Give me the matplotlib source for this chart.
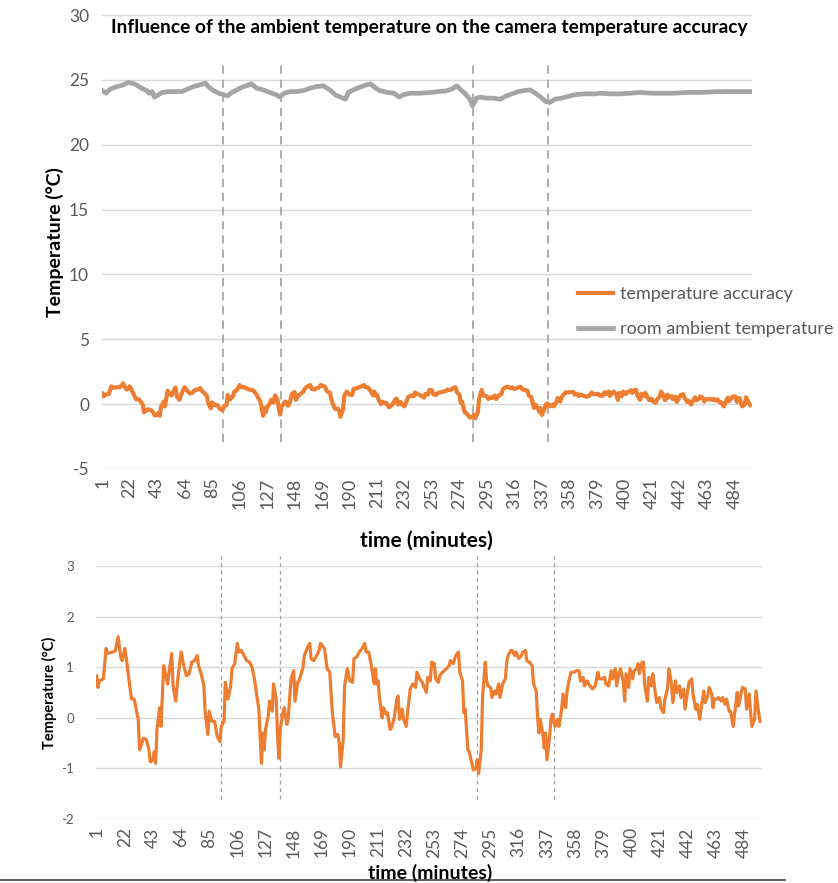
import matplotlib
matplotlib.use("Agg")
import matplotlib.pyplot as plt
from matplotlib.lines import Line2D

plt.rcParams['font.family'] = ['Lato', 'DejaVu Sans']
plt.rcParams['axes.unicode_minus'] = False

# ---------------- data ----------------
acc_minutes = [1, 2, 3, 6, 8, 9, 13, 15, 17, 19, 20, 22, 23, 25, 27, 29, 31, 32, 33, 36,
               38, 40, 41, 43, 44, 45, 46, 48, 49, 51, 52, 54, 55, 57, 58, 60, 61, 63, 64, 66,
               68, 70, 72, 74, 76, 77, 79, 81, 82, 84, 85, 87, 89, 91, 93, 94, 96, 97, 99, 101,
               102, 104, 106, 107, 109, 111, 113, 115, 117, 119, 120, 122, 124, 125, 126, 127, 129, 130, 132, 133,
               135, 136, 137, 138, 140, 141, 143, 144, 146, 148, 149, 151, 152, 155, 156, 158, 160, 161, 163, 166,
               167, 168, 170, 171, 173, 175, 176, 177, 179, 181, 182, 183, 185, 186, 188, 190, 192, 193, 195, 197,
               199, 201, 202, 204, 206, 208, 209, 210, 211, 212, 214, 215, 217, 218, 220, 221, 223, 225, 226, 227,
               229, 230, 232, 233, 235, 237, 239, 240, 242, 244, 245, 247, 248, 250, 251, 253, 254, 256, 257, 259,
               262, 264, 265, 267, 269, 271, 272, 274, 275, 276, 277, 278, 279, 281, 282, 284, 285, 286, 288, 289,
               291, 292, 293, 295, 296, 298, 299, 301, 302, 304, 306, 307, 308, 310, 311, 313, 314, 316, 318, 319,
               321, 322, 324, 326, 327, 329, 330, 331, 332, 334, 335, 336, 337, 339, 340, 341, 343, 345, 346, 348,
               349, 351, 352, 354, 355, 357, 359, 361, 362, 364, 365, 367, 369, 371, 373, 375, 376, 378, 380, 381,
               383, 385, 386, 388, 389, 391, 392, 394, 395, 396, 398, 399, 401, 402, 404, 405, 406, 408, 409, 410,
               412, 413, 415, 416, 418, 419, 421, 422, 424, 425, 427, 428, 430, 431, 433, 434, 436, 437, 439, 440,
               442, 443, 445, 446, 448, 449, 451, 452, 454, 455, 457, 458, 460, 461, 462, 464, 465, 467, 468, 470,
               471, 473, 474, 476, 477, 479, 480, 482, 483, 485, 486, 488, 489, 490, 492, 493, 495, 496]

acc_values = [0.83, 0.6, 0.73, 0.77, 1.37, 1.27, 1.3, 1.33, 1.6, 1.2, 1.13, 1.37, 1.2, 0.77, 0.37, 0.37, 0.1, -0.03, -0.63, -0.4,
              -0.43, -0.63, -0.87, -0.83, -0.67, -0.9, -0.23, 0.2, -0.17, 1.03, 0.9, 0.67, 0.9, 1.27, 0.63, 0.33, 0.63, 1.1, 1.3, 1.03,
              0.83, 0.87, 1.1, 1.13, 1.23, 1.03, 0.87, 0.63, 0.1, -0.33, 0.13, -0.07, -0.07, -0.37, -0.47, -0.17, -0.07, 0.7, 0.37, 0.63,
              0.97, 1.07, 1.47, 1.3, 1.33, 1.23, 1.13, 1.1, 1.0, 0.73, 0.53, 0.17, -0.9, -0.3, -0.63, -0.23, 0.03, 0.33, 0.13, 0.67,
              0.37, -0.37, -0.8, -0.23, 0.1, 0.2, -0.13, 0.0, 0.77, 0.93, 0.33, 0.7, 0.73, 1.0, 1.23, 1.37, 1.47, 1.17, 1.13, 1.27,
              1.33, 1.47, 1.4, 1.37, 0.97, 0.9, 0.43, 0.07, -0.37, -0.33, -0.5, -0.97, -0.43, 0.63, 0.97, 0.73, 0.7, 1.17, 1.2, 1.3,
              1.37, 1.47, 1.3, 1.3, 1.03, 0.67, 0.97, 0.67, 0.73, 0.4, 0.0, 0.2, 0.07, 0.1, -0.23, -0.2, 0.0, 0.37, 0.43, -0.03,
              0.17, -0.03, -0.17, 0.1, 0.57, 0.67, 0.6, 0.9, 0.77, 0.7, 0.63, 0.5, 0.8, 0.73, 1.1, 1.07, 0.77, 0.7, 0.83, 0.9,
              0.97, 1.03, 1.13, 1.07, 1.23, 1.3, 0.9, 0.73, 0.1, 0.17, -0.23, -0.63, -0.67, -0.9, -1.03, -1.0, -0.83, -1.1, -0.63, 0.43,
              1.1, 0.73, 0.63, 0.6, 0.4, 0.53, 0.47, 0.67, 0.4, 0.67, 0.77, 1.1, 1.23, 1.33, 1.33, 1.23, 1.3, 1.17, 1.23, 1.3,
              1.33, 1.13, 1.1, 1.03, 0.67, 0.53, 0.03, -0.3, -0.03, -0.33, -0.6, -0.3, -0.83, -0.37, -0.03, 0.07, -0.17, -0.03, -0.17, 0.17,
              0.47, 0.2, 0.53, 0.8, 0.9, 0.9, 0.93, 0.93, 0.73, 0.8, 0.63, 0.73, 0.63, 0.57, 0.63, 0.9, 0.77, 0.77, 0.8, 0.67,
              0.63, 0.93, 0.77, 0.97, 0.63, 0.9, 0.97, 0.7, 0.33, 0.87, 0.6, 0.97, 0.77, 0.93, 0.97, 1.07, 0.87, 1.1, 1.1, 0.63,
              0.33, 0.8, 0.63, 0.87, 0.47, 0.3, 0.4, 0.2, 0.1, 0.37, 0.57, 0.97, 0.67, 0.3, 0.73, 0.5, 0.63, 0.4, 0.57, 0.17,
              0.53, 0.7, 0.77, 0.47, 0.17, 0.27, -0.03, 0.17, 0.53, 0.3, 0.43, 0.6, 0.47, 0.2, 0.37, 0.37, 0.4, 0.33, 0.4, 0.27,
              0.37, 0.13, 0.13, -0.17, 0.07, 0.5, 0.23, 0.5, 0.6, 0.57, 0.17, 0.47, 0.1, -0.17, -0.03, 0.53, 0.1, -0.07]

room_minutes = [1, 4, 7, 11, 15, 17, 21, 24, 27, 31, 35, 37, 39, 41, 44, 47, 52, 57, 62, 66,
                71, 76, 80, 82, 86, 90, 94, 97, 100, 104, 108, 111, 115, 119, 124, 129, 134, 137, 140, 145,
                150, 155, 160, 165, 170, 175, 179, 183, 187, 189, 193, 198, 203, 206, 210, 213, 219, 224, 228, 231,
                236, 244, 252, 258, 264, 268, 272, 275, 278, 282, 284, 287, 290, 295, 300, 305, 309, 314, 319, 324,
                328, 332, 336, 340, 343, 347, 352, 357, 362, 369, 377, 382, 389, 397, 405, 412, 420, 428, 438, 448,
                458, 468, 478, 489, 496]
room_values = [24.18, 23.97, 24.28, 24.44, 24.54, 24.62, 24.8, 24.74, 24.62, 24.36, 24.18, 23.97, 24.1, 23.67, 23.85, 24.03, 24.1, 24.1, 24.1, 24.28,
               24.49, 24.62, 24.74, 24.49, 24.18, 23.97, 23.85, 23.77, 24.03, 24.23, 24.44, 24.54, 24.69, 24.36, 24.23, 24.03, 23.85, 23.67, 23.97, 24.1,
               24.1, 24.18, 24.36, 24.49, 24.54, 24.23, 23.85, 23.67, 23.51, 24.03, 24.23, 24.44, 24.62, 24.69, 24.36, 24.18, 24.03, 23.97, 23.67, 23.85,
               23.97, 23.97, 24.03, 24.1, 24.15, 24.28, 24.54, 24.23, 23.97, 23.51, 23.0, 23.59, 23.67, 23.59, 23.59, 23.51, 23.72, 23.92, 24.1, 24.18,
               24.23, 23.97, 23.67, 23.33, 23.26, 23.51, 23.59, 23.72, 23.85, 23.92, 23.92, 23.97, 23.92, 23.92, 23.97, 24.03, 23.97, 23.97, 23.97, 24.03,
               24.03, 24.08, 24.1, 24.1, 24.1]

event_minutes = [93.5, 138, 284.5, 342]
tick_labels = [1, 22, 43, 64, 85, 106, 127, 148, 169, 190, 211, 232, 253, 274, 295, 316,
               337, 358, 379, 400, 421, 442, 463, 484]
top_yticks = [-5, 0, 5, 10, 15, 20, 25, 30]
bottom_yticks = [-2, -1, 0, 1, 2, 3]

ORANGE = '#ED7D31'
GRAY = '#A5A5A5'
GRID = '#D9D9D9'
TXT = '#595959'

W, H = 838, 883
fig = plt.figure(figsize=(W / 100, H / 100), dpi=100)


def frac_box(x0, x1, ytop, ybot):
    return [x0 / W, 1 - ybot / H, (x1 - x0) / W, (ybot - ytop) / H]


# ---------------- top chart ----------------
ax1 = fig.add_axes(frac_box(101.5, 752, 15, 469))
ax1.set_xlim(0.5, 497.5)
ax1.set_ylim(-5, 30)
ax1.set_yticks(top_yticks)
ax1.set_xticks(tick_labels)
ax1.set_xticklabels([str(t) for t in tick_labels], rotation=90, fontsize=13, color=TXT)
ax1.tick_params(axis='y', labelsize=12.5, colors=TXT, length=0, pad=9)
ax1.tick_params(axis='x', length=0, pad=6)
ax1.grid(axis='y', color=GRID, linewidth=1.0)
ax1.set_axisbelow(True)
for s in ax1.spines.values():
    s.set_visible(False)
ax1.vlines(event_minutes, -2.9, 26.2, colors='#A0A0A0', linestyles=(0, (5, 3.5)), linewidth=1.2, zorder=1.5)
l_acc, = ax1.plot(acc_minutes, acc_values, color=ORANGE, linewidth=3.0, solid_joinstyle='round', zorder=3)
l_room, = ax1.plot(room_minutes, room_values, color=GRAY, linewidth=3.4, solid_joinstyle='round', zorder=3)
ax1.set_ylabel('Temperature (°C)', fontsize=14, fontweight='bold', color='black')
ax1.yaxis.set_label_coords((64 - 101.5) / 650.5, 0.5)
fig.text(429 / W, 1 - 28 / H, 'Influence of the ambient temperature on the camera temperature accuracy',
         ha='center', va='center', fontsize=13.8, fontweight='bold', color='black')
fig.text(426 / W, 1 - 541 / H, 'time (minutes)', ha='center', va='center', fontsize=15,
         fontweight='bold', color='black')

fig.legend([l_acc, l_room], ['temperature accuracy', 'room ambient temperature'],
           loc='upper left', bbox_to_anchor=(578 / W, 1 - 286 / H), frameon=False,
           fontsize=13, labelcolor=TXT, handlelength=1.95, handletextpad=0.35, labelspacing=1.05,
           borderaxespad=0, borderpad=0)

# ---------------- bottom chart ----------------
ax2 = fig.add_axes(frac_box(96, 762, 566, 819))
ax2.set_xlim(0.5, 497.5)
ax2.set_ylim(-2, 3)
ax2.set_yticks(bottom_yticks)
ax2.set_xticks(tick_labels)
ax2.set_xticklabels([str(t) for t in tick_labels], rotation=90, fontsize=12.5, color=TXT)
ax2.tick_params(axis='y', labelsize=9.5, colors=TXT, length=0, pad=16)
ax2.tick_params(axis='x', length=0, pad=6)
ax2.grid(axis='y', color=GRID, linewidth=1.0)
ax2.set_axisbelow(True)
for s in ax2.spines.values():
    s.set_visible(False)
ax2.vlines(event_minutes, -1.6, 3.2, colors='#A0A0A0', linestyles=(0, (3, 3)), linewidth=0.9,
           zorder=1.5, clip_on=False)
ax2.plot(acc_minutes, acc_values, color=ORANGE, linewidth=2.3, solid_joinstyle='round', zorder=3)
ax2.set_ylabel('Temperature (°C)', fontsize=10.5, fontweight='bold', color='black')
ax2.yaxis.set_label_coords((57 - 96) / 666, 0.5)
fig.text(430 / W, 1 - 882 / H, 'time (minutes)', ha='center', va='bottom', fontsize=14,
         fontweight='bold', color='black')

fig.add_artist(Line2D([0, 785 / W], [1 - 880 / H, 1 - 880 / H], color='#404040', linewidth=1.2))

fig.savefig('out.png', dpi=100)
